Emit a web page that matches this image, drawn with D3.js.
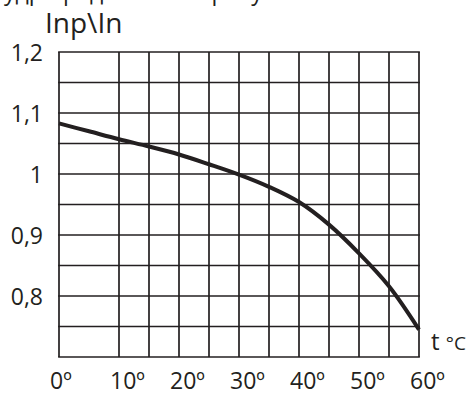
<!DOCTYPE html>
<html>
<head>
<meta charset="utf-8">
<script src="https://cdn.jsdelivr.net/npm/d3@7"></script>
<style>
  body { margin: 0; background: #fff; }
  svg { display: block; font-family: 'Open Sans', sans-serif; }
</style>
</head>
<body>
<svg id="chart" width="470" height="393"></svg>
<script>
// temperature, degrees C
const temps = [0, 5, 10, 15, 20, 25, 30, 35, 40, 45, 50, 55, 60]
// Inp / In ratio
const ratio = [1.083, 1.070, 1.057, 1.045, 1.032, 1.016, 0.999, 0.979, 0.954, 0.917, 0.870, 0.816, 0.745]

const yTickValues = [1.2, 1.1, 1.0, 0.9, 0.8]
const yTickLabels = ['1,2', '1,1', '1', '0,9', '0,8']
const xTickValues = [0, 10, 20, 30, 40, 50, 60]
const xTickLabels = ['0º', '10º', '20º', '30º', '40º', '50º', '60º']
const xGrid = [0, 10, 15, 20, 25, 30, 35, 40, 45, 50, 55, 60]
const yGrid = [0.7, 0.75, 0.8, 0.85, 0.9, 0.95, 1.0, 1.05, 1.1, 1.15, 1.2]

const ink = '#231f20'
const plotLeft = 59, plotRight = 419, plotTop = 52, plotBottom = 357

let svg = d3.select('#chart')

let xScale = d3.scaleLinear().domain([0, 60]).range([plotLeft, plotRight])
let yScale = d3.scaleLinear().domain([0.7, 1.2]).range([plotBottom, plotTop])

// caption line above, only its lower edge is inside the picture
svg.append('text')
  .attr('x', 4)
  .attr('y', 0)
  .style('font-size', '23px')
  .style('fill', ink)
  .text('удр представлено рисунком')

svg.append('text')
  .attr('x', 45)
  .attr('y', 33)
  .style('font-size', '28px')
  .style('fill', ink)
  .text('Inp\\In')

let grid = svg.append('g').classed('grid', true)
grid.selectAll('line.v')
  .data(xGrid)
  .enter()
  .append('line')
  .attr('x1', d => xScale(d))
  .attr('x2', d => xScale(d))
  .attr('y1', plotTop)
  .attr('y2', plotBottom)
  .style('stroke', ink)
  .style('stroke-width', 1.7)
grid.selectAll('line.h')
  .data(yGrid)
  .enter()
  .append('line')
  .attr('x1', plotLeft - 0.85)
  .attr('x2', plotRight + 0.85)
  .attr('y1', d => yScale(d))
  .attr('y2', d => yScale(d))
  .style('stroke', ink)
  .style('stroke-width', 1.7)

svg.append('g')
  .selectAll('text')
  .data(yTickValues)
  .enter()
  .append('text')
  .attr('x', 43)
  .attr('y', d => yScale(d))
  .attr('dy', '0.4em')
  .attr('text-anchor', 'end')
  .style('font-size', '23px')
  .style('fill', ink)
  .text((d, i) => yTickLabels[i])

svg.append('g')
  .selectAll('text')
  .data(xTickValues)
  .enter()
  .append('text')
  .attr('x', d => xScale(d) - 9)
  .attr('y', 389)
  .style('font-size', '23px')
  .style('fill', ink)
  .text((d, i) => xTickLabels[i])

let t = svg.append('text')
  .attr('x', 431)
  .attr('y', 350)
  .style('fill', ink)
t.append('tspan').style('font-size', '24px').text('t ')
t.append('tspan').style('font-size', '19px').text('°C')

let line = d3.line()
  .x((d, i) => xScale(temps[i]))
  .y(d => yScale(d))
  .curve(d3.curveCatmullRom.alpha(0.5))

svg.append('path')
  .attr('d', line(ratio))
  .style('fill', 'none')
  .style('stroke', ink)
  .style('stroke-width', 4)
</script>
</body>
</html>
